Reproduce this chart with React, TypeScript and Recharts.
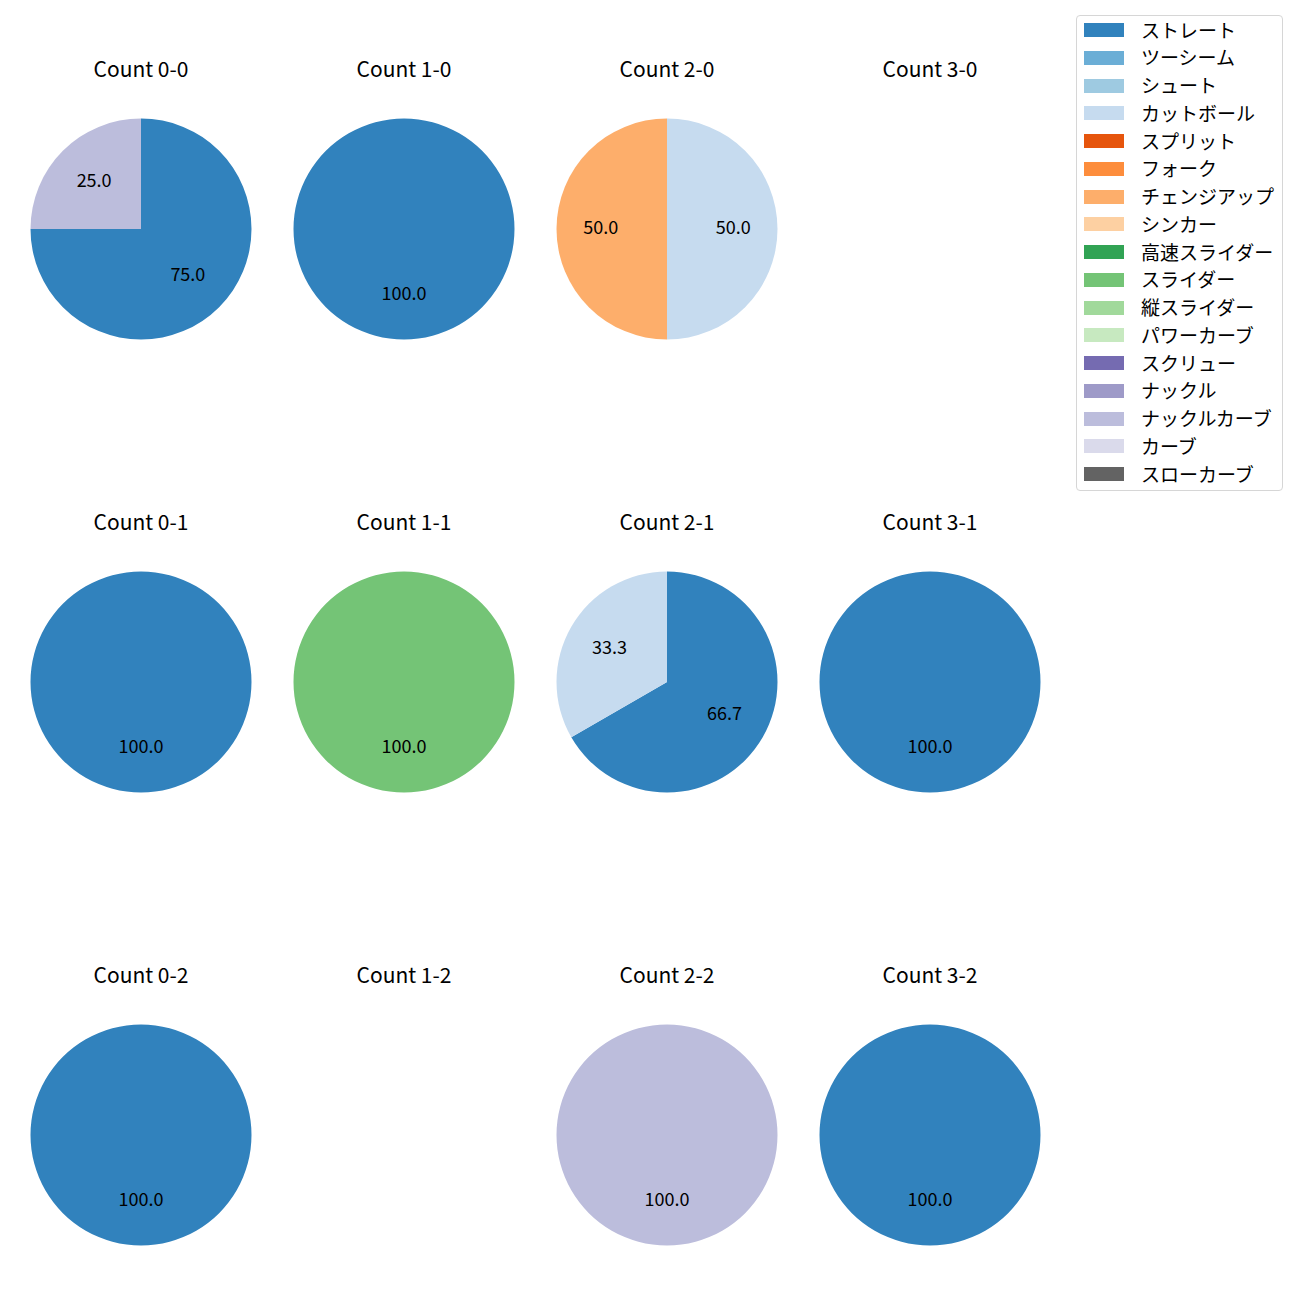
import { PieChart, Pie, Cell } from 'recharts'

const pitchNames = [
  'ストレート', 'ツーシーム', 'シュート', 'カットボール', 'スプリット', 'フォーク',
  'チェンジアップ', 'シンカー', '高速スライダー', 'スライダー', '縦スライダー',
  'パワーカーブ', 'スクリュー', 'ナックル', 'ナックルカーブ', 'カーブ', 'スローカーブ',
]

const pitchColors = [
  '#3182bd', '#6baed6', '#9ecae1', '#c6dbef', '#e6550d', '#fd8d3c',
  '#fdae6b', '#fdd0a2', '#31a354', '#74c476', '#a1d99b', '#c7e9c0',
  '#756bb1', '#9e9ac8', '#bcbddc', '#dadaeb', '#636363',
]

interface Slice {
  pitch: string
  value: number
}

const count00: Slice[] = [{ pitch: 'ストレート', value: 3 }, { pitch: 'ナックルカーブ', value: 1 }]
const count10: Slice[] = [{ pitch: 'ストレート', value: 1 }]
const count20: Slice[] = [{ pitch: 'カットボール', value: 1 }, { pitch: 'チェンジアップ', value: 1 }]
const count30: Slice[] = []
const count01: Slice[] = [{ pitch: 'ストレート', value: 1 }]
const count11: Slice[] = [{ pitch: 'スライダー', value: 1 }]
const count21: Slice[] = [{ pitch: 'ストレート', value: 2 }, { pitch: 'カットボール', value: 1 }]
const count31: Slice[] = [{ pitch: 'ストレート', value: 1 }]
const count02: Slice[] = [{ pitch: 'ストレート', value: 1 }]
const count12: Slice[] = []
const count22: Slice[] = [{ pitch: 'ナックルカーブ', value: 1 }]
const count32: Slice[] = [{ pitch: 'ストレート', value: 1 }]

const grid: { title: string; data: Slice[] }[][] = [
  [
    { title: 'Count 0-0', data: count00 },
    { title: 'Count 1-0', data: count10 },
    { title: 'Count 2-0', data: count20 },
    { title: 'Count 3-0', data: count30 },
  ],
  [
    { title: 'Count 0-1', data: count01 },
    { title: 'Count 1-1', data: count11 },
    { title: 'Count 2-1', data: count21 },
    { title: 'Count 3-1', data: count31 },
  ],
  [
    { title: 'Count 0-2', data: count02 },
    { title: 'Count 1-2', data: count12 },
    { title: 'Count 2-2', data: count22 },
    { title: 'Count 3-2', data: count32 },
  ],
]

const FONT = '"Noto Sans CJK JP", "Noto Sans", sans-serif'
const colX = [141, 404, 667, 930]
const rowY = [229, 682, 1135]
const R = 110.5
const W = 262
const H = 260

const RAD = Math.PI / 180

function renderLabel(props: any) {
  const { cx, cy, midAngle, outerRadius, percent } = props
  const r = outerRadius * 0.6
  const x = cx + r * Math.cos(-midAngle * RAD)
  const y = cy + r * Math.sin(-midAngle * RAD)
  return (
    <text
      x={x}
      y={y - 3}
      textAnchor="middle"
      dominantBaseline="central"
      fill="#000"
      fontSize={18}
      fontFamily={FONT}
    >
      {(percent * 100).toFixed(1)}
    </text>
  )
}

function PieCell({ title, data, x, y }: { title: string; data: Slice[]; x: number; y: number }) {
  return (
    <>
      <div
        style={{
          position: 'absolute',
          left: x - 100,
          top: y - 160 - 16,
          width: 200,
          height: 30,
          lineHeight: '30px',
          textAlign: 'center',
          fontSize: '21px',
          fontFamily: FONT,
          color: '#000',
        }}
      >
        {title}
      </div>
      {data.length > 0 && (
        <div style={{ position: 'absolute', left: x - W / 2, top: y - H / 2 }}>
          <PieChart width={W} height={H} margin={{ top: 0, right: 0, bottom: 0, left: 0 }}>
            <Pie
              data={data}
              dataKey="value"
              nameKey="pitch"
              cx={W / 2}
              cy={H / 2}
              outerRadius={R}
              startAngle={90}
              endAngle={-270}
              stroke="none"
              labelLine={false}
              label={renderLabel}
              isAnimationActive={false}
            >
              {data.map((d) => (
                <Cell key={d.pitch} fill={pitchColors[pitchNames.indexOf(d.pitch)]} />
              ))}
            </Pie>
          </PieChart>
        </div>
      )}
    </>
  )
}

export default function App() {
  return (
    <div
      style={{
        position: 'absolute',
        left: 0,
        top: 0,
        width: 1300,
        height: 1300,
        background: '#fff',
        fontFamily: FONT,
      }}
    >
      {grid.map((row, ri) =>
        row.map((c, ci) => (
          <PieCell key={c.title} title={c.title} data={c.data} x={colX[ci]} y={rowY[ri]} />
        ))
      )}

      <div
        style={{
          position: 'absolute',
          left: 1076,
          top: 15,
          width: 205,
          height: 474,
          border: '1px solid #d6d6d6',
          borderRadius: 4,
          boxSizing: 'content-box',
        }}
      >
        {pitchNames.map((name, i) => (
          <div
            key={name}
            style={{
              position: 'absolute',
              left: 0,
              top: i * 27.75 - 1,
              height: 28,
              display: 'flex',
              alignItems: 'center',
            }}
          >
            <div style={{ marginLeft: 7, width: 40, height: 14, marginTop: 2, background: pitchColors[i] }} />
            <span style={{ marginLeft: 17, fontSize: '19px', color: '#000', whiteSpace: 'nowrap' }}>
              {name}
            </span>
          </div>
        ))}
      </div>
    </div>
  )
}
